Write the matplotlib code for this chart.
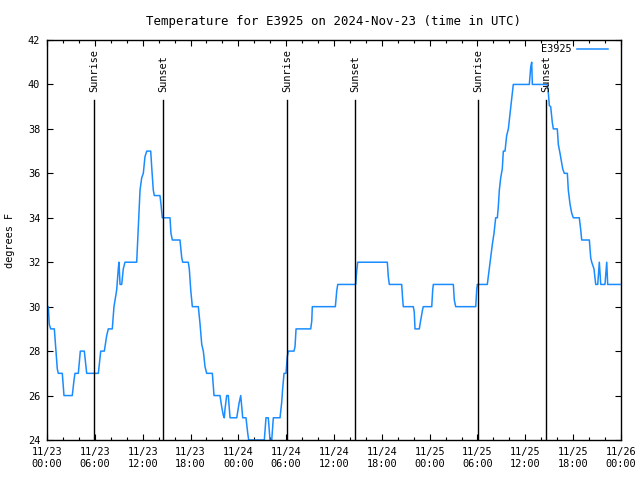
import matplotlib
matplotlib.use('Agg')
import matplotlib.pyplot as plt
from matplotlib.ticker import MultipleLocator

# hours since 2024-11-23 00:00 UTC, temperature in F
hours = [0.0, 0.16, 0.29, 0.46, 0.92, 1.09, 1.29, 1.42, 1.92, 2.13,
         3.17, 3.39, 3.51, 3.93, 4.18, 4.68, 4.98, 6.44, 6.74, 7.19,
         7.49, 7.69, 8.19, 8.40, 8.74, 8.94, 9.03, 9.16, 9.37, 9.57,
         9.78, 11.25, 11.38, 11.54, 11.67, 11.88, 12.08, 12.29, 12.51, 13.01,
         13.13, 13.33, 13.46, 14.17, 14.30, 14.46, 15.43, 15.55, 15.72, 16.68,
         16.90, 17.02, 17.72, 17.85, 18.03, 18.23, 18.98, 19.19, 19.41, 19.61,
         19.82, 20.03, 20.74, 20.95, 21.70, 21.91, 22.12, 22.24, 22.33, 22.54,
         22.74, 22.96, 23.80, 24.09, 24.30, 24.42, 24.55, 24.96, 25.18, 25.30,
         27.26, 27.47, 27.76, 27.97, 28.19, 28.39, 29.23, 29.44, 29.56, 29.73,
         29.98, 30.14, 30.27, 30.98, 31.11, 31.24, 33.08, 33.21, 33.28, 36.17,
         36.34, 36.47, 38.72, 38.85, 38.97, 42.69, 42.81, 42.94, 44.49, 44.62,
         44.69, 45.95, 46.07, 46.16, 46.70, 46.88, 47.13, 47.20, 48.26, 48.38,
         48.46, 50.97, 51.09, 51.27, 53.78, 53.90, 53.98, 55.23, 55.44, 55.65,
         55.86, 56.07, 56.28, 56.49, 56.61, 56.74, 56.91, 57.11, 57.24, 57.45,
         57.66, 57.87, 58.08, 58.24, 58.42, 58.49, 60.50, 60.68, 60.80, 60.88,
         62.76, 62.88, 63.01, 63.18, 63.38, 63.51, 64.01, 64.14, 64.35, 64.69,
         64.89, 65.27, 65.39, 65.61, 65.82, 66.02, 66.77, 66.95, 67.07, 68.03,
         68.20, 68.33, 68.61, 68.83, 69.08, 69.28, 69.46, 69.99, 70.21, 70.33,
         71.88]
temps = [30, 30, 29.2, 29, 29, 28.2, 27.2, 27, 27, 26,
         26, 26.7, 27, 27, 28, 28, 27, 27, 28, 28,
         28.7, 29, 29, 30, 30.75, 31.7, 32, 31, 31, 31.7,
         32, 32, 33, 34.3, 35.25, 35.8, 36, 36.75, 37, 37,
         36.3, 35.25, 35, 35, 34.6, 34, 34, 33.3, 33, 33,
         32.2, 32, 32, 31.7, 30.75, 30, 30, 29.25, 28.3, 28,
         27.3, 27, 27, 26, 26, 25.5, 25.1, 25, 25.4, 26,
         26, 25, 25, 25.65, 26, 25.5, 25, 25, 24.3, 24,
         24, 25, 25, 24, 24, 25, 25, 25.7, 26.3, 27,
         27, 27.75, 28, 28, 28.2, 29, 29, 29.35, 30, 30,
         30.7, 31, 31, 31.6, 32, 32, 31.35, 31, 31, 30.3,
         30, 30, 29.75, 29, 29, 29.4, 29.9, 30, 30, 30.75,
         31, 31, 30.3, 30, 30, 30.75, 31, 31, 31.6, 32.2,
         32.8, 33.3, 34, 34, 34.5, 35.25, 35.8, 36.2, 37, 37,
         37.7, 38, 38.7, 39.2, 39.75, 40, 40, 40.8, 41, 40,
         40, 39.65, 39.05, 39, 38.3, 38, 38, 37.3, 36.9, 36.2,
         36, 36, 35.25, 34.6, 34.2, 34, 34, 33.45, 33, 33,
         32.2, 32, 31.7, 31, 31, 32, 31, 31, 32, 31,
         31]

sun_hours = [5.9, 14.55, 30.1, 38.63, 54.06, 62.6]
sun_labels = ['Sunrise', 'Sunset', 'Sunrise', 'Sunset', 'Sunrise', 'Sunset']

tick_hours = list(range(0, 73, 6))
tick_labels = ['11/23\n00:00', '11/23\n06:00', '11/23\n12:00', '11/23\n18:00',
               '11/24\n00:00', '11/24\n06:00', '11/24\n12:00', '11/24\n18:00',
               '11/25\n00:00', '11/25\n06:00', '11/25\n12:00', '11/25\n18:00',
               '11/26\n00:00']

plt.rcParams['font.family'] = 'DejaVu Sans Mono'
plt.rcParams['font.size'] = 7.4

fig = plt.figure(figsize=(6.4, 4.8), dpi=100)
ax = fig.add_axes([47/640, 40/480, 574/640, 400/480])

ax.plot(hours, temps, color='#1a8cff', linewidth=1.1, label='E3925')

for h, lab in zip(sun_hours, sun_labels):
    ax.plot([h, h], [0, 0.85], color='black', linewidth=1.0,
            transform=ax.get_xaxis_transform())
    ax.text(h, 0.87, lab, rotation=90, ha='center', va='bottom',
            transform=ax.get_xaxis_transform())

ax.set_xlim(0, 72)
ax.set_ylim(24, 42)
ax.set_xticks(tick_hours)
ax.set_xticklabels(tick_labels)
ax.xaxis.set_minor_locator(MultipleLocator(2))
ax.set_yticks(range(24, 43, 2))
ax.tick_params(which='both', direction='in', top=True, right=True, colors='black')
ax.tick_params(which='major', length=4.5, width=0.8, pad=5)
ax.tick_params(which='minor', length=2.2, width=0.8)
for s in ax.spines.values():
    s.set_linewidth(1.0)

ax.set_ylabel('degrees F', labelpad=9)
ax.set_title('Temperature for E3925 on 2024-Nov-23 (time in UTC)', pad=11)

ax.legend(loc='upper right', bbox_to_anchor=(0.985, 1.0), markerfirst=False,
          frameon=False, handlelength=3.0, handletextpad=0.6, borderaxespad=0.0)

fig.savefig('out.png', dpi=100)
